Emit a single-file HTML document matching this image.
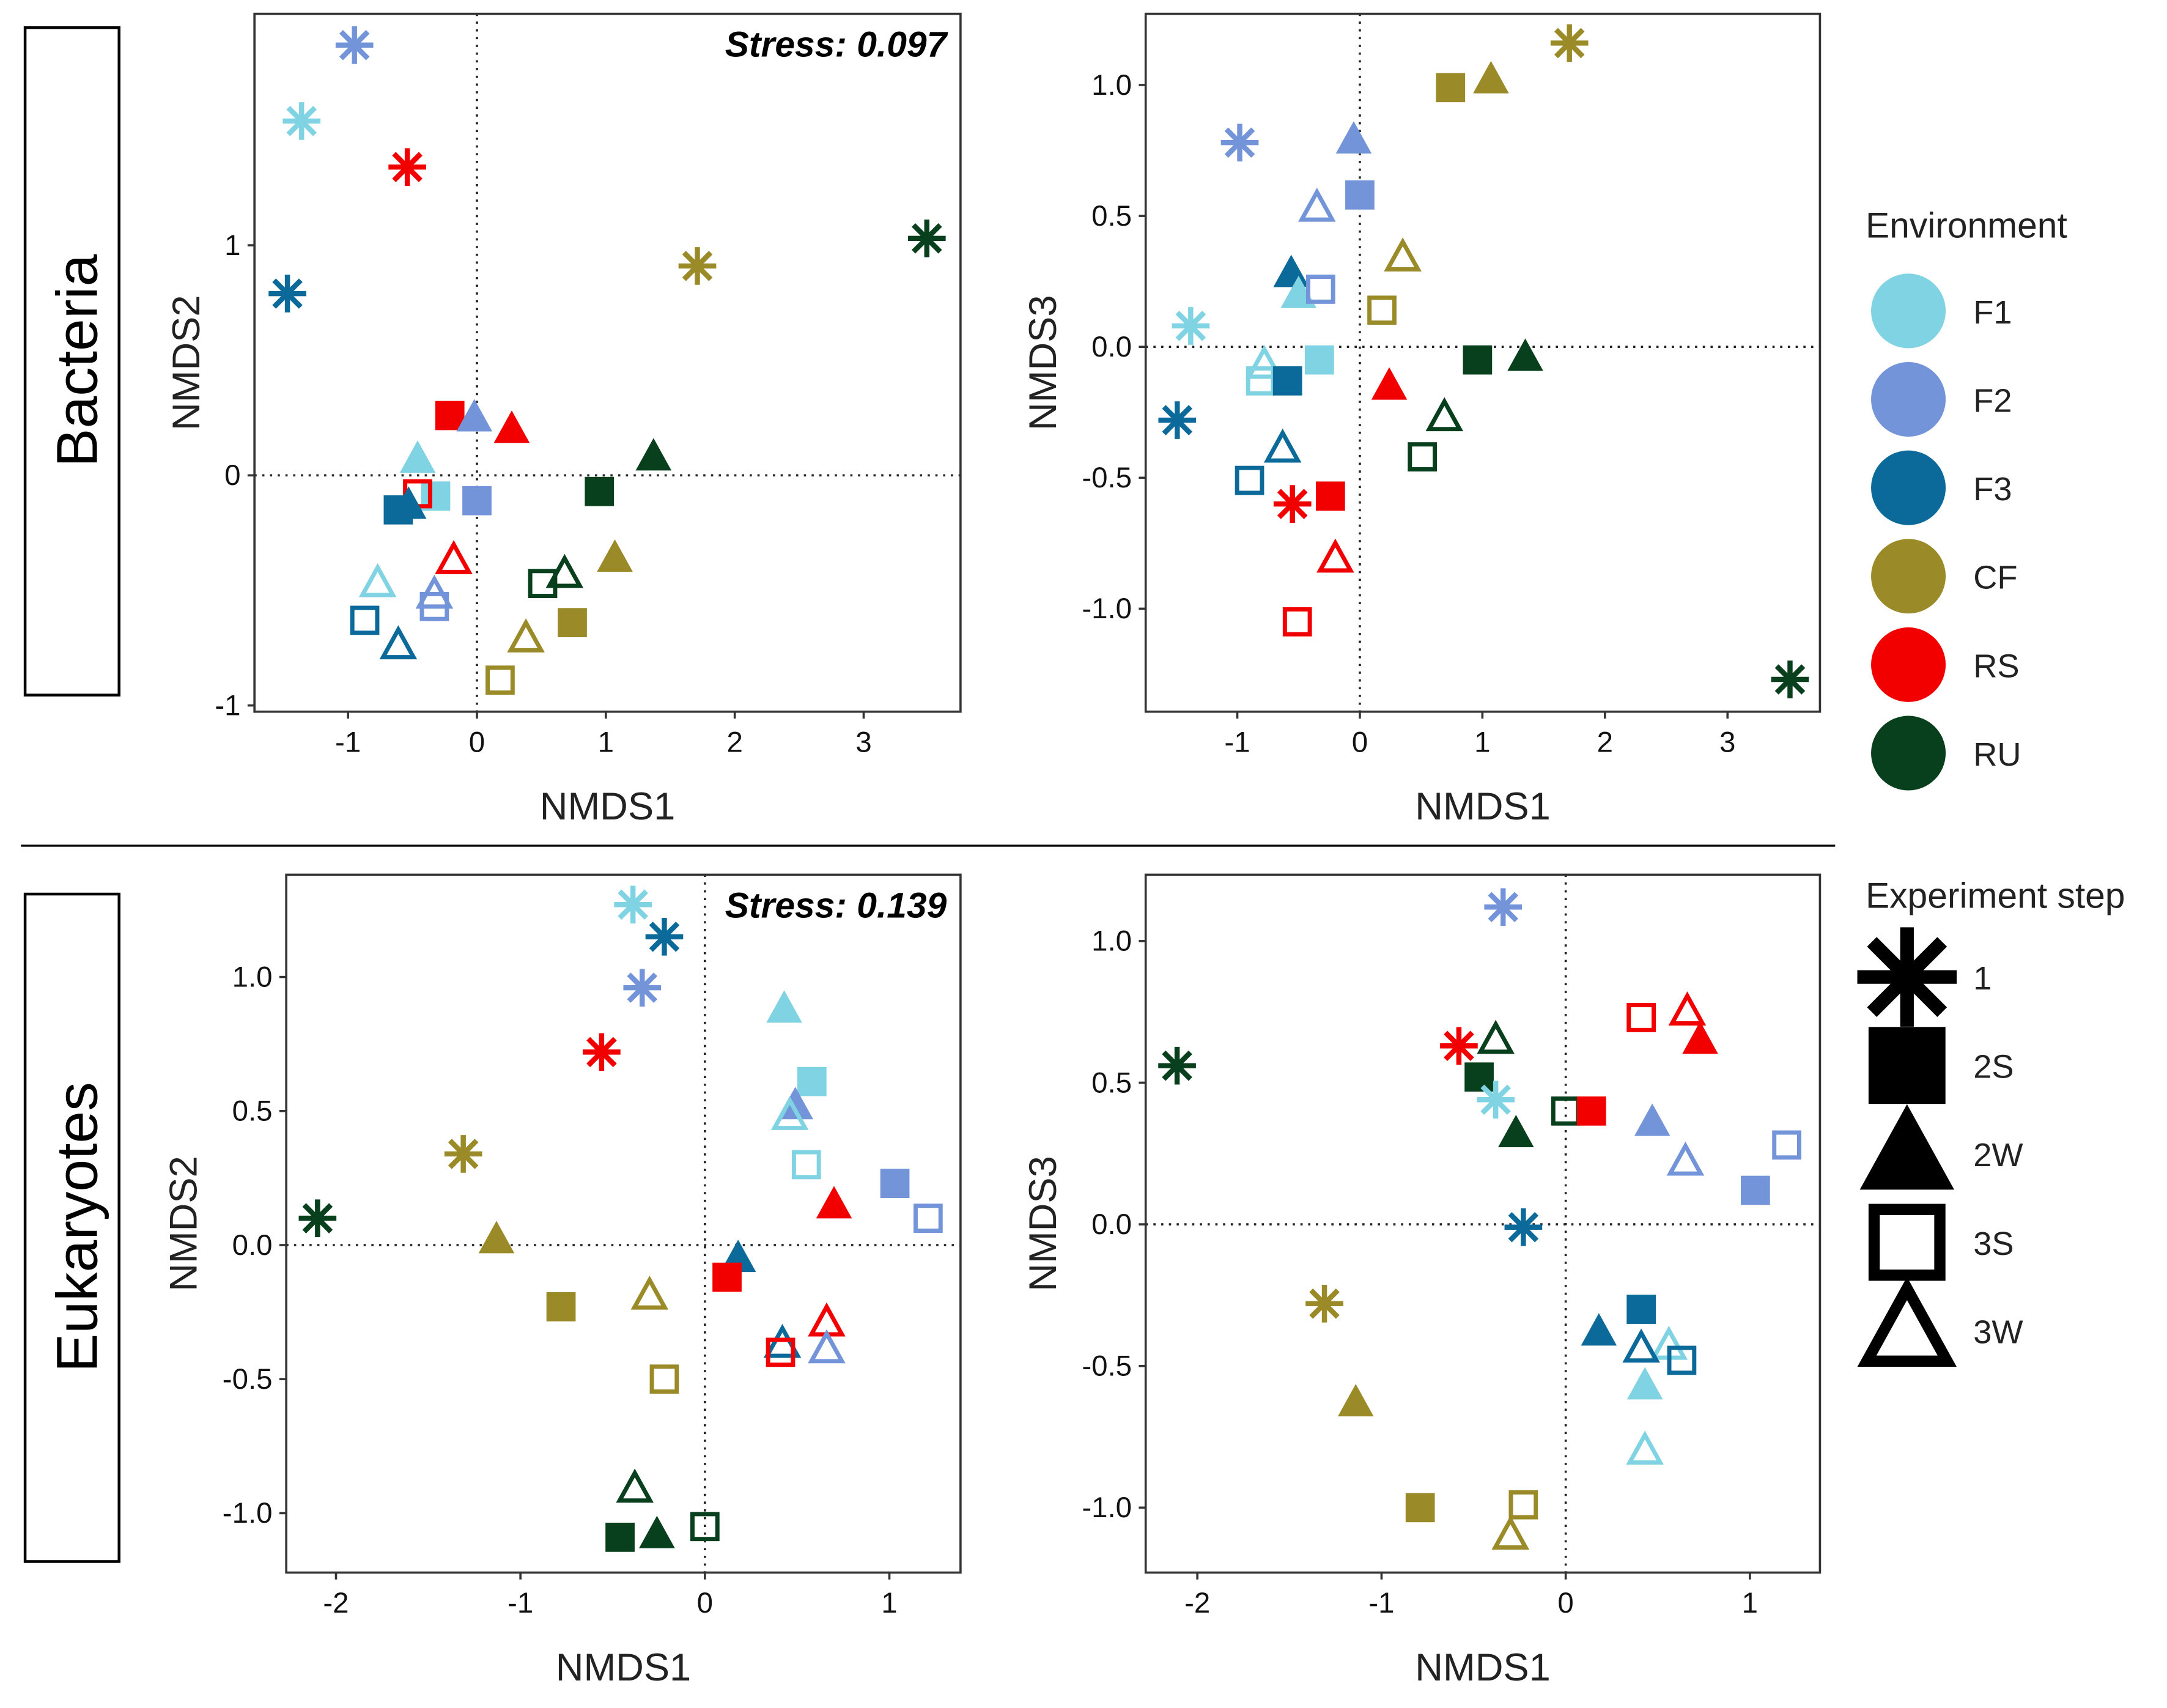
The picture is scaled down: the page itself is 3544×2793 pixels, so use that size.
<!DOCTYPE html>
<html><head><meta charset="utf-8"><style>
html,body{margin:0;padding:0;background:#fff}
svg{display:block}
text{font-family:"Liberation Sans",Arial,sans-serif}
</style></head><body>
<svg id="fig" width="3544" height="2793" viewBox="0 0 1568 1236" xmlns="http://www.w3.org/2000/svg">
<rect x="0" y="0" width="1568" height="1236" fill="#fff"/>
<g>
<rect x="18" y="20" width="68" height="483" fill="none" stroke="#000" stroke-width="2"/>
<text transform="translate(70,261) rotate(-90)" font-size="42" text-anchor="middle">Bacteria</text>
</g>
<g>
<rect x="18" y="647" width="68" height="483" fill="none" stroke="#000" stroke-width="2"/>
<text transform="translate(70,888) rotate(-90)" font-size="42" text-anchor="middle">Eukaryotes</text>
</g>
<line x1="15" y1="612" x2="1328" y2="612" stroke="#000" stroke-width="1.5"/>
<g id="panels"></g>
<g id="legend"></g>
</svg>
<script>
// colours per environment
const envNames = ["F1","F2","F3","CF","RS","RU"];
const envColors = ["#7fd3e2","#7394d8","#0b6a9a","#9a8a28","#f20000","#083f1c"];
const stepNames = ["1","2S","2W","3S","3W"];

// Top-left: Bacteria NMDS1 vs NMDS2
const tlEnv  = ["F2","F1","RS","F3","CF","RU","RS","F2","RS","F1","F1","RS","F2","F3","F3","RU","RU","RS","CF","RU","RU","F1","F2","F2","F3","F3","CF","CF","CF"];
const tlStep = ["1","1","1","1","1","1","2S","2W","2W","2W","2S","3S","2S","2S","2W","2S","2W","3W","2W","3S","3W","3W","3W","3S","3S","3W","2S","3W","3S"];
const tlX = [-0.95,-1.36,-0.54,-1.47,1.71,3.49,-0.21,-0.02,0.27,-0.46,-0.32,-0.46,0,-0.61,-0.53,0.95,1.37,-0.18,1.07,0.51,0.68,-0.77,-0.33,-0.33,-0.87,-0.61,0.74,0.38,0.18];
const tlY = [1.87,1.54,1.34,0.79,0.91,1.03,0.26,0.25,0.20,0.07,-0.09,-0.08,-0.11,-0.15,-0.13,-0.07,0.08,-0.37,-0.36,-0.47,-0.43,-0.47,-0.52,-0.57,-0.63,-0.74,-0.64,-0.71,-0.89];

// Top-right: Bacteria NMDS1 vs NMDS3
const trEnv  = ["CF","CF","CF","F2","F2","F2","F2","CF","F3","F1","F2","CF","F1","F1","F1","F1","F3","RU","RU","RS","F3","RU","RU","F3","F3","RS","RS","RS","RS","RU"];
const trStep = ["1","2S","2W","1","2W","2S","3W","3W","2W","2W","3S","3S","1","2S","3W","3S","2S","2S","2W","2W","1","3W","3S","3W","3S","1","2S","3W","3S","1"];
const trX = [1.71,0.74,1.07,-0.98,-0.05,0,-0.35,0.35,-0.56,-0.5,-0.32,0.18,-1.38,-0.33,-0.78,-0.81,-0.59,0.96,1.35,0.24,-1.49,0.69,0.51,-0.63,-0.9,-0.55,-0.24,-0.2,-0.51,3.51];
const trY = [1.16,0.99,1.02,0.78,0.79,0.58,0.53,0.34,0.28,0.2,0.22,0.14,0.08,-0.05,-0.07,-0.13,-0.13,-0.05,-0.04,-0.15,-0.28,-0.27,-0.42,-0.39,-0.51,-0.6,-0.57,-0.81,-1.05,-1.27];

// Bottom-left: Eukaryotes NMDS1 vs NMDS2
const blEnv  = ["F1","F3","F2","RS","CF","RU","CF","CF","CF","CF","F1","F1","F2","F1","F1","F2","F2","RS","F3","RS","RS","F2","F3","RS","RU","RU","RU","RU"];
const blStep = ["1","1","1","1","1","1","2W","2S","3W","3S","2W","2S","2W","3W","3S","2S","3S","2W","2W","2S","3W","3W","3W","3S","3W","2S","2W","3S"];
const blX = [-0.39,-0.22,-0.34,-0.56,-1.31,-2.1,-1.13,-0.78,-0.3,-0.22,0.43,0.58,0.49,0.46,0.55,1.03,1.21,0.7,0.18,0.12,0.66,0.66,0.42,0.41,-0.38,-0.46,-0.26,0.0];
const blY = [1.27,1.15,0.96,0.72,0.34,0.1,0.02,-0.23,-0.19,-0.5,0.88,0.61,0.52,0.48,0.3,0.23,0.1,0.15,-0.05,-0.12,-0.29,-0.39,-0.37,-0.4,-0.91,-1.09,-1.08,-1.05];

// Bottom-right: Eukaryotes NMDS1 vs NMDS3
const brEnv  = ["F2","RU","RS","RU","RU","F1","RU","RU","RS","RS","RS","RS","F2","F2","F2","F2","F3","CF","F3","F3","F1","F3","F3","F1","F1","CF","CF","CF","CF"];
const brStep = ["1","1","1","3W","2S","1","2W","3S","2S","3S","3W","2W","2W","3W","3S","2S","1","1","2S","2W","3W","3W","3S","2W","3W","2W","2S","3S","3W"];
const brX = [-0.34,-2.11,-0.58,-0.38,-0.47,-0.38,-0.27,0,0.14,0.41,0.66,0.73,0.47,0.65,1.2,1.03,-0.23,-1.31,0.41,0.18,0.56,0.41,0.63,0.43,0.43,-1.14,-0.79,-0.23,-0.3];
const brY = [1.12,0.56,0.63,0.65,0.52,0.44,0.32,0.4,0.4,0.73,0.75,0.65,0.36,0.22,0.28,0.12,-0.01,-0.28,-0.3,-0.38,-0.43,-0.44,-0.48,-0.57,-0.8,-0.63,-1.0,-0.99,-1.1];

const tlXTicks = [-1,0,1,2,3], tlYTicks = [-1,0,1];
const trXTicks = [-1,0,1,2,3], trYTicks = [-1.0,-0.5,0.0,0.5,1.0];
const blXTicks = [-2,-1,0,1], blYTicks = [-1.0,-0.5,0.0,0.5,1.0];
const brXTicks = [-2,-1,0,1], brYTicks = [-1.0,-0.5,0.0,0.5,1.0];

const NS = "http://www.w3.org/2000/svg";
function mk(tag, attrs, parent){const e=document.createElementNS(NS,tag);for(const k in attrs)e.setAttribute(k,attrs[k]);parent.appendChild(e);return e;}

function drawMarker(g, step, cx, cy, col, s){
  let e;
  if(step==="1"){
    e=mk("g",{stroke:col,"stroke-width":s*0.17,"stroke-linecap":"butt"},g);
    const r=s*0.62;
    for(let a=0;a<4;a++){const t=a*Math.PI/4;mk("line",{x1:cx-r*Math.cos(t),y1:cy-r*Math.sin(t),x2:cx+r*Math.cos(t),y2:cy+r*Math.sin(t)},e);}
  }else if(step==="2S"||step==="3S"){
    const h=s*0.48, open=step==="3S";
    e=mk("rect",{x:cx-h+(open?s*0.07:0),y:cy-h+(open?s*0.07:0),width:2*h-(open?s*0.14:0),height:2*h-(open?s*0.14:0),fill:open?"none":col,stroke:open?col:"none","stroke-width":s*0.14},g);
  }else{
    const open=step==="3W", h=s*0.62;
    const sh=open?0.85:1;
    const pts=[[cx,cy-h*sh],[cx+h*0.95*sh,cy+h*0.72*sh],[cx-h*0.95*sh,cy+h*0.72*sh]].map(p=>p.join(",")).join(" ");
    e=mk("polygon",{points:pts,fill:open?"none":col,stroke:open?col:"none","stroke-width":s*0.14,"stroke-linejoin":"miter"},g);
  }
  return e;
}

function panel(name, box, xdom, ydom, xt, yt, fx, fy, env, step, X, Y, ylab, stress){
  const root=document.getElementById("panels");
  const g=mk("g",{},root);
  
  
  const [L,T,R,B]=box;
  const sx=v=>L+(v-xdom[0])/(xdom[1]-xdom[0])*(R-L);
  const sy=v=>B-(v-ydom[0])/(ydom[1]-ydom[0])*(B-T);
  const zl=mk("g",{stroke:"#222","stroke-width":1.6,"stroke-dasharray":"1.6,4"},g);
  
  
  mk("line",{x1:L,y1:sy(0),x2:R,y2:sy(0)},zl);
  mk("line",{x1:sx(0),y1:T,x2:sx(0),y2:B},zl);
  const pg=mk("g",{},g);
  
  
  for(let i=0;i<X.length;i++){
    const col=envColors[envNames.indexOf(env[i])];
    const m=drawMarker(pg, step[i], sx(X[i]), sy(Y[i]), col, 22);
    
    
  }
  const fr=mk("rect",{x:L,y:T,width:R-L,height:B-T,fill:"none",stroke:"#333","stroke-width":1.6},g);
  
  
  const xa=mk("g",{},g);
  
  
  xt.forEach(v=>{mk("line",{x1:sx(v),y1:B,x2:sx(v),y2:B+5,stroke:"#333","stroke-width":1.6},xa);
    const t=mk("text",{x:sx(v),y:B+29,"font-size":21,"text-anchor":"middle",fill:"#111"},xa);t.textContent=fx(v);
    
    });
  const xl=mk("text",{x:(L+R)/2,y:B+78,"font-size":28,"text-anchor":"middle",fill:"#222"},g);xl.textContent="NMDS1";
  
  
  const ya=mk("g",{},g);
  
  
  yt.forEach(v=>{mk("line",{x1:L-5,y1:sy(v),x2:L,y2:sy(v),stroke:"#333","stroke-width":1.6},ya);
    const t=mk("text",{x:L-10,y:sy(v)+7,"font-size":21,"text-anchor":"end",fill:"#111"},ya);t.textContent=fy(v);
    
    });
  const yl=mk("text",{transform:`translate(${L-(yt.length>3?65:40)},${(T+B)/2}) rotate(-90)`,"font-size":28,"text-anchor":"middle",fill:"#222"},g);yl.textContent=ylab;
  
  
  if(stress){const st=mk("text",{x:R-10,y:T+31,"font-size":26,"font-weight":"bold","font-style":"italic","text-anchor":"end",fill:"#000"},g);st.textContent=stress;
    
    }
}
const f0=v=>String(v);
const f1=v=>v.toFixed(1);
panel("bacteria-nmds2-panel",[184,10,695,515],[(184-345)/93.3,(695-345)/93.3],[(344-515)/166.5,(344-10)/166.5],tlXTicks,tlYTicks,f0,f0,tlEnv,tlStep,tlX,tlY,"NMDS2","Stress: 0.097");
panel("bacteria-nmds3-panel",[829,10,1317,515],[(829-984)/88.7,(1317-984)/88.7],[(251-515)/189.5,(251-10)/189.5],trXTicks,trYTicks,f0,f1,trEnv,trStep,trX,trY,"NMDS3",null);
panel("eukaryotes-nmds2-panel",[207,633,695,1138],[(207-510)/133.5,(695-510)/133.5],[(901-1138)/194,(901-633)/194],blXTicks,blYTicks,f0,f1,blEnv,blStep,blX,blY,"NMDS2","Stress: 0.139");
panel("eukaryotes-nmds3-panel",[829,633,1317,1138],[(829-1133)/133.3,(1317-1133)/133.3],[(886-1138)/205,(886-633)/205],brXTicks,brYTicks,f0,f1,brEnv,brStep,brX,brY,"NMDS3",null);

const lg=document.getElementById("legend");
const et=mk("text",{x:1350,y:172,"font-size":26,fill:"#222"},lg);et.textContent="Environment";


envNames.forEach((n,i)=>{const y=225+i*64;
  const c=mk("circle",{cx:1381,cy:y,r:27,fill:envColors[i]},lg);
  
  
  const t=mk("text",{x:1428,y:y+9,"font-size":24,fill:"#222"},lg);t.textContent=n;
  
  });
const st2=mk("text",{x:1350,y:657,"font-size":26,fill:"#222"},lg);st2.textContent="Experiment step";


stepNames.forEach((n,i)=>{const y=707+i*64;
  const m=drawMarker(lg,n,1380,y,"#000",58);
  
  
  const t=mk("text",{x:1428,y:y+9,"font-size":24,fill:"#222"},lg);t.textContent=n;
  
  });
</script>
</body></html>
